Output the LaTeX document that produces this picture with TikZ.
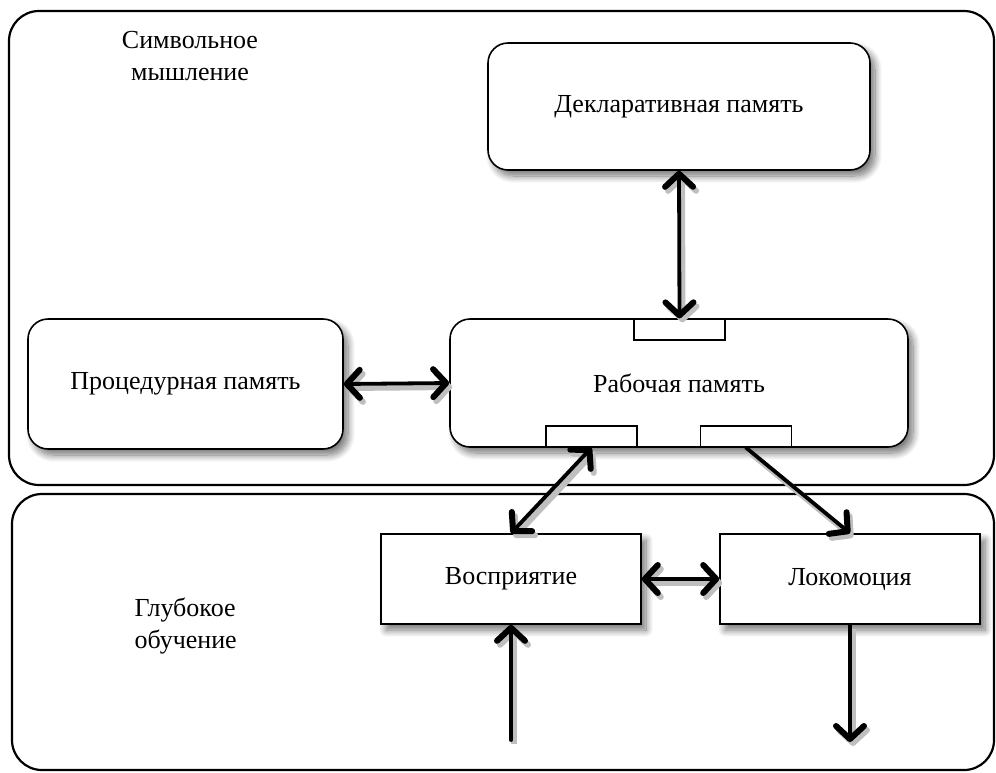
\documentclass[tikz,border=0pt]{standalone}
\usepackage{fontspec}
\setmainfont{Liberation Serif}
\usetikzlibrary{arrows.meta,shadows.blur}
\tikzset{area/.style={draw,line width=2.2pt,rounded corners=30pt}}
\tikzset{membox/.style={draw,line width=1.6pt,rounded corners=20pt,fill=white,inner sep=0pt,
  blur shadow={shadow xshift=5pt,shadow yshift=-6pt,shadow blur radius=7pt,shadow blur steps=12,shadow opacity=55}}}
\tikzset{modbox/.style={draw,line width=1.6pt,fill=white,inner sep=0pt,minimum width=260pt,minimum height=90pt,
  blur shadow={shadow xshift=5pt,shadow yshift=-6pt,shadow blur radius=7pt,shadow blur steps=12,shadow opacity=55}}}
\tikzset{slotbox/.style={draw,line width=1.3pt,fill=white,inner sep=0pt,minimum width=91pt,minimum height=21pt}}
\tikzset{link/.style={line width=3.8pt,line cap=round,
  preaction={draw=black!25,line width=6pt,transform canvas={shift={(3pt,-4pt)}}}}}

\begin{document}
\begin{tikzpicture}[x=1pt,y=-1pt,
  >={Straight Barb[length=13pt,width=28pt,line width=6pt,line cap=round,line join=round]},
  every node/.style={font=\fontsize{26}{32}\selectfont}]
\useasboundingbox (0,0) rectangle (996,772);

% two areas
\draw[area] (9,11) rectangle (994,485);
\draw[area] (12,494) rectangle (994,770);
\node[align=center] (symb) at (190,56) {Символьное\\мышление};
\node[align=left,anchor=west] (deep) at (131,626) {Глубокое\\обучение};

% memories
\node[membox,minimum width=382pt,minimum height=127pt] (decl) at (679,106.5) {Декларативная память};
\node[membox,minimum width=315pt,minimum height=130pt] (proc) at (185.5,384) {Процедурная память};
\node[membox,minimum width=458pt,minimum height=128pt] (work) at (679,383) {Рабочая память};
\node[slotbox] (slotT) at (679.5,329.5) {};
\node[slotbox] (slotL) at (591.5,436.5) {};
\node[slotbox] (slotR) at (746,436.5) {};

% modules
\node[modbox] (perc) at (511,579) {Восприятие};
\node[modbox] (loco) at (850,579) {Локомоция};
\coordinate (in) at (511,740);
\coordinate (out) at (850,742);

% links
\draw[link,<->] (decl.south) -- (slotT.north);
\draw[link,<->] (proc.east) -- (work.west);
\draw[link,<->] (slotL.south) -- (perc.north);
\draw[link,->] (slotR.south) -- (loco.north);
\draw[link,<->] (perc.east) -- (loco.west);
\draw[link,->] (in) -- (perc.south);
\draw[link,->] (loco.south) -- (out);

\end{tikzpicture}
\end{document}
